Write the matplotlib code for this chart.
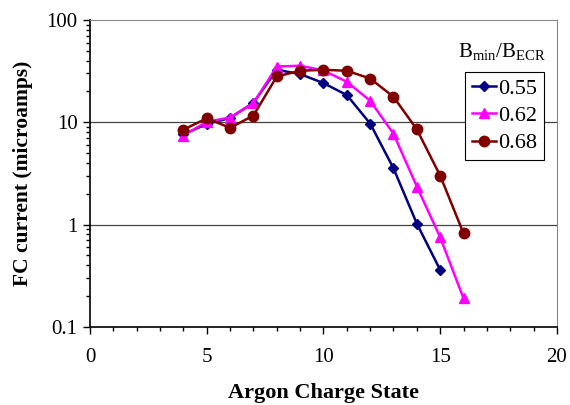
import matplotlib
matplotlib.use("Agg")
import matplotlib.pyplot as plt
from matplotlib.ticker import FuncFormatter, LogLocator, MultipleLocator, NullFormatter

# Charge states and Faraday cup currents for each Bmin/BECR ratio.
states_055 = [4, 5, 6, 7, 8, 9, 10, 11, 12, 13, 14, 15]
current_055 = [7.6, 9.6, 11.0, 15.5, 32.5, 29.5, 24.1, 18.4, 9.7, 3.54, 1.02, 0.36]

states_062 = [4, 5, 6, 7, 8, 9, 10, 11, 12, 13, 14, 15, 16]
current_062 = [7.4, 10.1, 11.1, 15.3, 35.0, 35.6, 32.0, 24.8, 16.2, 7.7, 2.35, 0.75, 0.19]

states_068 = [4, 5, 6, 7, 8, 9, 10, 11, 12, 13, 14, 15, 16]
current_068 = [8.45, 10.9, 8.8, 11.6, 28.0, 31.8, 32.5, 31.8, 26.7, 17.7, 8.5, 3.0, 0.82]

plt.rcParams["font.family"] = ["Liberation Serif", "DejaVu Serif"]
plt.rcParams["mathtext.fontset"] = "custom"
plt.rcParams["mathtext.rm"] = "Liberation Serif"

fig = plt.figure(figsize=(5.7, 4.05), dpi=100)
ax = fig.add_axes([0.158, 0.193, 0.819, 0.758])

ax.plot(states_055, current_055, color="#000080", marker="D", markersize=5.5, lw=1.8, label="0.55")
ax.plot(states_062, current_062, color="#FF00FF", marker="^", markersize=7.5, lw=1.8, label="0.62")
ax.plot(states_068, current_068, color="#800000", marker="o", markersize=7.5, lw=1.8, label="0.68")

ax.set_yscale("log")
ax.set_ylim(0.1, 100)
ax.set_xlim(0, 20)

ax.xaxis.set_major_locator(MultipleLocator(5))
ax.xaxis.set_minor_locator(MultipleLocator(1))
ax.yaxis.set_major_locator(LogLocator(base=10))
ax.yaxis.set_minor_locator(LogLocator(base=10, subs=range(2, 10)))
ax.yaxis.set_major_formatter(FuncFormatter(lambda v, p: "%g" % v))
ax.yaxis.set_minor_formatter(NullFormatter())

ax.tick_params(which="major", direction="out", length=5, width=1, labelsize=15, color="black")
ax.tick_params(which="minor", direction="out", length=3, width=1, color="black")
ax.tick_params(axis="x", pad=10)
ax.tick_params(axis="y", pad=4)

for v in [1, 10]:
    ax.axhline(v, color="#444444", lw=0.9, zorder=0)

ax.spines["left"].set_color("black")
ax.spines["bottom"].set_color("black")
ax.spines["left"].set_linewidth(1.2)
ax.spines["bottom"].set_linewidth(1.2)
ax.spines["top"].set_color("#888888")
ax.spines["right"].set_color("#888888")

ax.set_xlabel("Argon Charge State", fontsize=16, fontweight="bold", labelpad=12)
ax.set_ylabel("FC current (microamps)", fontsize=15.5, fontweight="bold", labelpad=10)

leg = ax.legend(loc="upper left", bbox_to_anchor=(0.803, 0.831), fontsize=16, frameon=True,
                fancybox=False, edgecolor="black", framealpha=1, borderpad=0.3,
                handlelength=1.1, handletextpad=0.1, labelspacing=0.3, borderaxespad=0)
leg.get_frame().set_linewidth(0.8)

ax.text(0.882, 0.895, r"B$_{\mathrm{min}}$/B$_{\mathrm{ECR}}$", transform=ax.transAxes,
        fontsize=15, ha="center", va="center")

fig.savefig("out.png", dpi=100)
